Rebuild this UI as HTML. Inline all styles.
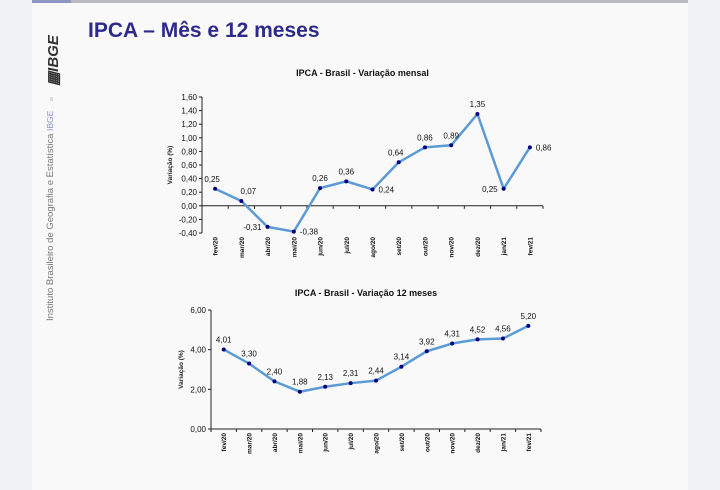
<!DOCTYPE html>
<html><head><meta charset="utf-8"><style>
html,body{margin:0;padding:0;width:720px;height:490px;overflow:hidden;background:#f1f2f4;font-family:"Liberation Sans",sans-serif}
</style></head><body>
<svg width="720" height="490" xmlns="http://www.w3.org/2000/svg" font-family="Liberation Sans, sans-serif">
<rect x="32" y="0" width="656" height="490" fill="#f9f9f9"/>
<rect x="32" y="0" width="656" height="3" fill="#b9b9c1"/>
<rect x="32" y="0" width="39" height="3" fill="#8e97c4"/>
<text x="88" y="37" font-size="21" font-weight="bold" fill="#2e2a8c">IPCA – Mês e 12 meses</text>
<text transform="translate(58,86) rotate(-90)" font-size="15" font-weight="bold" font-style="italic" fill="#333">▦IBGE</text>
<rect x="50" y="97" width="3" height="4" fill="#ddd"/>
<text transform="translate(53,131) rotate(-90)" font-size="8.5" fill="#8a93c2">IBGE</text>
<text transform="translate(53,321) rotate(-90)" font-size="9.5" fill="#777">Instituto Brasileiro de Geografia e Estatística</text>
<g id="c1"></g>
<g id="c2"></g>
</svg>
<script>
const categories = ["fev/20","mar/20","abr/20","mai/20","jun/20","jul/20","ago/20","set/20","out/20","nov/20","dez/20","jan/21","fev/21"];
const monthlyValues = [0.25,0.07,-0.31,-0.38,0.26,0.36,0.24,0.64,0.86,0.89,1.35,0.25,0.86];
const monthlyTicks = [1.60,1.40,1.20,1.00,0.80,0.60,0.40,0.20,0.00,-0.20,-0.40];
const yearlyValues = [4.01,3.30,2.40,1.88,2.13,2.31,2.44,3.14,3.92,4.31,4.52,4.56,5.20];
const yearlyTicks = [6.00,4.00,2.00,0.00];
const monthlyLabelSide = ["al","ar","l","r","a","a","r","al","a","a","a","l","r"];
const NS="http://www.w3.org/2000/svg";
function mk(p,t,a,txt){const e=document.createElementNS(NS,t);for(const k in a)e.setAttribute(k,a[k]);if(txt!=null)e.textContent=txt;p.appendChild(e);return e;}
function fmt(v){return v.toFixed(2).replace('.',',');}
function draw(g,cfg){
  const {x0,x1,yTop,yBot,vMin,vMax,values,ticks,title,titleY,ytX,zeroV,sides}=cfg;
  const n=categories.length, step=(x1-x0)/n;
  const X=i=>x0+step*(i+0.5);
  const Y=v=>yBot-(v-vMin)/(vMax-vMin)*(yBot-yTop);
  let t=mk(g,'text',{x:(x0+x1)/2-10,y:titleY,'font-size':9,'font-weight':'bold','text-anchor':'middle',fill:'#111'},title);
  
  
  t=mk(g,'text',{transform:`translate(${ytX},${(yTop+yBot)/2}) rotate(-90)`,'font-size':6.5,'font-weight':'bold','text-anchor':'middle',fill:'#222'},'Variação (%)');
  
  
  let a=mk(g,'line',{x1:x0,y1:yTop,x2:x0,y2:yBot,stroke:'#222','stroke-width':1});
  
  
  ticks.forEach(v=>{
    mk(g,'line',{x1:x0-3,y1:Y(v),x2:x0,y2:Y(v),stroke:'#222','stroke-width':1});
    const l=mk(g,'text',{x:x0-5,y:Y(v)+3,'font-size':8,'text-anchor':'end',fill:'#111'},fmt(v));
    
    
  });
  const yz=Y(zeroV);
  a=mk(g,'line',{x1:x0,y1:yz,x2:x1,y2:yz,stroke:'#222','stroke-width':1});
  
  
  for(let i=0;i<=n;i++)mk(g,'line',{x1:x0+step*i,y1:yz,x2:x0+step*i,y2:yz+3,stroke:'#222','stroke-width':1});
  categories.forEach((c,i)=>{
    const l=mk(g,'text',{transform:`translate(${X(i)+2.5},${yBot+4}) rotate(-90)`,'font-size':6.5,'font-weight':'bold','text-anchor':'end',fill:'#111'},c);
    
    
  });
  const pts=values.map((v,i)=>X(i)+','+Y(v)).join(' ');
  const line=mk(g,'polyline',{points:pts,fill:'none',stroke:'#5b9bd5','stroke-width':2.5,'stroke-linejoin':'round'});
  
  
  values.forEach((v,i)=>{
    const c=mk(g,'circle',{cx:X(i),cy:Y(v),r:2,fill:'#000080'});
    
    
    const s=sides?sides[i]:'a';
    let lx=X(i),ly=Y(v)-7,anc='middle';
    if(s==='al'){lx=X(i)-3;}
    if(s==='ar'){lx=X(i)+7;}
    if(s==='l'){lx=X(i)-6;ly=Y(v)+3;anc='end';}
    if(s==='r'){lx=X(i)+6;ly=Y(v)+3;anc='start';}
    const l=mk(g,'text',{x:lx,y:ly,'font-size':8,'text-anchor':anc,fill:'#111'},fmt(v));
    
    
  });
}
draw(document.getElementById('c1'),{x0:202,x1:543,yTop:97,yBot:233,vMin:-0.4,vMax:1.6,values:monthlyValues,ticks:monthlyTicks,title:'IPCA - Brasil - Variação mensal',titleY:76,ytX:172,zeroV:0,sides:monthlyLabelSide});
draw(document.getElementById('c2'),{x0:211,x1:541,yTop:310,yBot:429,vMin:0,vMax:6,values:yearlyValues,ticks:yearlyTicks,title:'IPCA - Brasil - Variação 12 meses',titleY:296,ytX:183,zeroV:0,sides:null});
</script>
</body></html>
